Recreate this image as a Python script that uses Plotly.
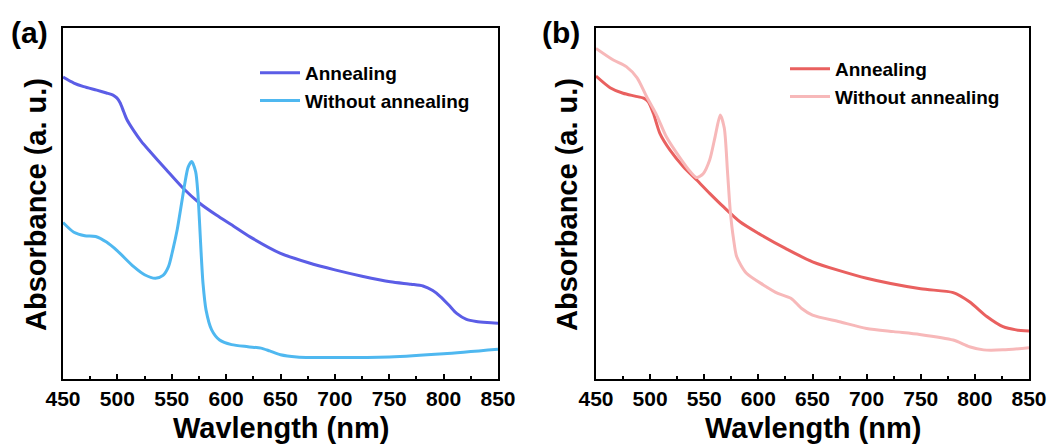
import plotly.graph_objects as go

# ---------------- data ----------------
wl_ann_a = [450, 460, 469, 481, 490, 496, 499.5, 502.5, 505.5, 508.6, 514.7, 522, 530, 545, 560, 576,
            591, 606.6, 622, 650, 675, 700, 725, 751, 770, 781, 790, 797, 805, 812, 821, 830, 840, 850]
abs_ann_a = [0.860, 0.843, 0.833, 0.823, 0.815, 0.809, 0.801, 0.787, 0.764, 0.740, 0.709, 0.677, 0.648,
             0.596, 0.545, 0.500, 0.467, 0.436, 0.405, 0.358, 0.332, 0.311, 0.293, 0.277, 0.270, 0.265,
             0.252, 0.235, 0.210, 0.187, 0.170, 0.164, 0.161, 0.159]

wl_raw_a = [450, 460, 470, 480, 490, 500, 515, 525, 535, 542, 547, 551, 555, 559, 562, 565, 568.3,
            572, 574, 575.5, 577, 578.8, 581.5, 586.7, 594, 605, 620, 632, 640, 650, 665, 700, 750, 800,
            850]
abs_raw_a = [0.446, 0.418, 0.408, 0.406, 0.390, 0.365, 0.320, 0.297, 0.287, 0.295, 0.320, 0.368, 0.425,
             0.500, 0.557, 0.603, 0.620, 0.590, 0.530, 0.450, 0.360, 0.270, 0.197, 0.140, 0.111, 0.098,
             0.092, 0.088, 0.080, 0.069, 0.063, 0.061, 0.063, 0.072, 0.085]

wl_ann_b = [450, 463, 475, 486, 494, 498.3, 503, 509, 518.4, 530.7, 543, 555, 567.6, 583, 600, 625, 650,
            700, 750, 780, 795, 811, 826, 838, 850]
abs_ann_b = [0.863, 0.830, 0.814, 0.806, 0.800, 0.790, 0.757, 0.700, 0.652, 0.605, 0.567, 0.529, 0.491,
             0.448, 0.415, 0.372, 0.334, 0.287, 0.257, 0.246, 0.220, 0.178, 0.149, 0.140, 0.137]

wl_raw_b = [450, 466, 478, 488, 496.8, 506, 515, 527.6, 537, 543, 549, 555, 560, 564.8, 568.5,
            571.5, 574, 577, 580, 589, 604.6, 618, 630, 640, 650, 675, 700, 725, 749, 780, 795, 808, 826,
            850]
abs_raw_b = [0.942, 0.909, 0.890, 0.858, 0.804, 0.752, 0.690, 0.630, 0.591, 0.574, 0.585, 0.624, 0.690,
             0.752, 0.715, 0.590, 0.480, 0.400, 0.348, 0.301, 0.268, 0.244, 0.230, 0.201, 0.182, 0.163,
             0.144, 0.135, 0.127, 0.111, 0.092, 0.083, 0.083, 0.089]

x_ticks = [450, 500, 550, 600, 650, 700, 750, 800, 850]
series_names = ["Annealing", "Without annealing"]
panel_labels = ["(a)", "(b)"]
x_title = "Wavlength (nm)"
y_title = "Absorbance (a. u.)"

# ---------------- styling ----------------
W, H = 1053, 446
FONT = "Arial, Liberation Sans, Helvetica, sans-serif"
col_ann_a, col_raw_a = "#5b5de6", "#4fb8f0"
col_ann_b, col_raw_b = "#e9605f", "#f7b8b9"

fig = go.Figure()

def line_trace(x, y, name, color, xa, ya, legend):
    return go.Scatter(x=x, y=y, name=name, mode="lines",
                      line=dict(color=color, width=3, shape="spline", smoothing=0.7),
                      xaxis=xa, yaxis=ya, legend=legend)

fig.add_trace(line_trace(wl_ann_a, abs_ann_a, series_names[0], col_ann_a, "x", "y", "legend"))
fig.add_trace(line_trace(wl_raw_a, abs_raw_a, series_names[1], col_raw_a, "x", "y", "legend"))
fig.add_trace(line_trace(wl_ann_b, abs_ann_b, series_names[0], col_ann_b, "x2", "y2", "legend2"))
fig.add_trace(line_trace(wl_raw_b, abs_raw_b, series_names[1], col_raw_b, "x2", "y2", "legend2"))

ydom = [67 / H, 418 / H]
xdom_a = [63 / W, 498 / W]
xdom_b = [596 / W, 1029 / W]

def xaxis(domain, anchor):
    return dict(domain=domain, anchor=anchor, range=[450, 850], automargin=False,
                tickvals=x_ticks, ticks="inside", ticklen=5, tickwidth=2, tickcolor="black",
                minor=dict(dtick=25, tick0=450, ticks="inside", ticklen=3, tickwidth=2, tickcolor="black"),
                showline=True, linewidth=2, linecolor="black", mirror=True,
                showgrid=False, zeroline=False,
                tickfont=dict(family=FONT, size=21, color="black", weight="bold"))

def yaxis(anchor):
    return dict(domain=ydom, anchor=anchor, range=[0, 1], automargin=False,
                showticklabels=False, ticks="", showgrid=False, zeroline=False,
                showline=True, linewidth=2, linecolor="black", mirror=True)

legend_font = dict(family=FONT, size=19, color="black", weight="bold")

fig.update_layout(
    width=W, height=H,
    margin=dict(l=0, r=0, t=0, b=0, autoexpand=False),
    paper_bgcolor="white", plot_bgcolor="white",
    xaxis=xaxis(xdom_a, "y"),
    yaxis=yaxis("x"),
    xaxis2=xaxis(xdom_b, "y2"),
    yaxis2=yaxis("x2"),
    legend=dict(x=255 / W, y=1 - 54 / H, xanchor="left", yanchor="top",
                bgcolor="rgba(0,0,0,0)", font=legend_font, tracegroupgap=0,
                itemwidth=40),
    legend2=dict(x=785 / W, y=1 - 50 / H, xanchor="left", yanchor="top",
                 bgcolor="rgba(0,0,0,0)", font=legend_font, tracegroupgap=0,
                 itemwidth=40),
    showlegend=True,
)

title_font = dict(family=FONT, size=29, color="black", weight="bold")
for dom in (xdom_a, xdom_b):
    fig.add_annotation(text=x_title, x=(dom[0] + dom[1]) / 2, y=1 - 428 / H,
                       xref="paper", yref="paper", xanchor="center", yanchor="middle",
                       showarrow=False, font=title_font)
for xc in (36, 567):
    fig.add_annotation(text=y_title, x=xc / W, y=1 - 205 / H, textangle=-90,
                       xref="paper", yref="paper", xanchor="center", yanchor="middle",
                       showarrow=False, font=title_font)

for label, xpos in zip(panel_labels, [29 / W, 561 / W]):
    fig.add_annotation(text=label, x=xpos, y=1 - 33 / H, xref="paper", yref="paper",
                       xanchor="center", yanchor="middle", showarrow=False,
                       font=dict(family=FONT, size=30, color="black", weight="bold"))

fig.write_html("out.html")
